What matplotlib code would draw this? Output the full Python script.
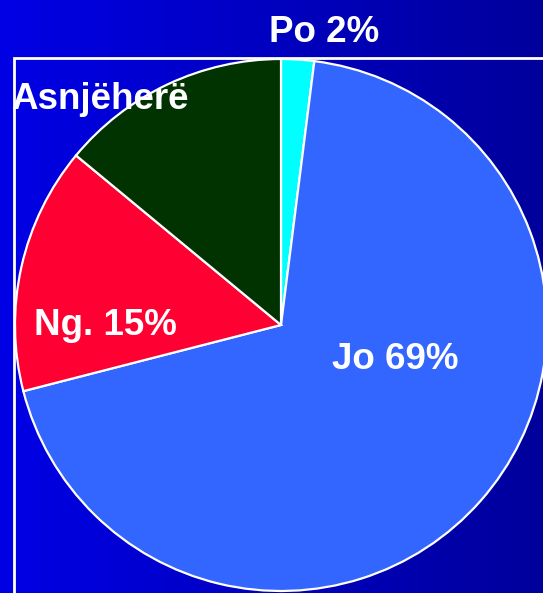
import numpy as np
import matplotlib
matplotlib.use("Agg")
import matplotlib.pyplot as plt
from matplotlib.patches import Rectangle

plt.rcParams['font.family'] = ['Liberation Sans', 'DejaVu Sans']

# slices, clockwise from the top
labels = ["Po 2%", "Jo 69%", "Ng. 15%", "Asnjëherë"]
shares = [2, 69, 15, 14]
colors = ["#00ffff", "#3366ff", "#ff0033", "#003300"]

W, H = 543, 593
fig = plt.figure(figsize=(W / 100, H / 100), dpi=100)
ax = fig.add_axes([0, 0, 1, 1])

# background: blue gradient, brighter on the left
grad = np.linspace(0, 1, 256).reshape(1, -1)
bg = np.zeros((1, 256, 3))
bg[..., 2] = 0.90 - 0.29 * grad
ax.imshow(bg, extent=[0, W, 0, H], aspect='auto', zorder=0)

# white frame, cut off at right and bottom
ax.add_patch(Rectangle((14, -20), 600, H - 58 + 20, fill=False,
                       edgecolor='white', lw=2, zorder=1))

cx, cy, r = 281, H - 325, 266
ax.pie(shares, colors=colors, startangle=90, counterclock=False,
       center=(cx, cy), radius=r, frame=True,
       wedgeprops=dict(edgecolor='white', linewidth=1.6, zorder=2))

# label placement (pixel coords from the top)
label_pos = {"Po 2%": (324, 42), "Jo 69%": (395, 369),
             "Ng. 15%": (105, 335), "Asnjëherë": (100, 109)}
for lab in labels:
    x, y = label_pos[lab]
    ax.text(x, H - y, lab, color='white', fontsize=26.5, fontweight='bold',
            ha='center', va='baseline', zorder=5)

ax.set_xlim(0, W)
ax.set_ylim(0, H)
ax.set_aspect('auto')
ax.axis('off')

fig.savefig("out.png", dpi=100)
